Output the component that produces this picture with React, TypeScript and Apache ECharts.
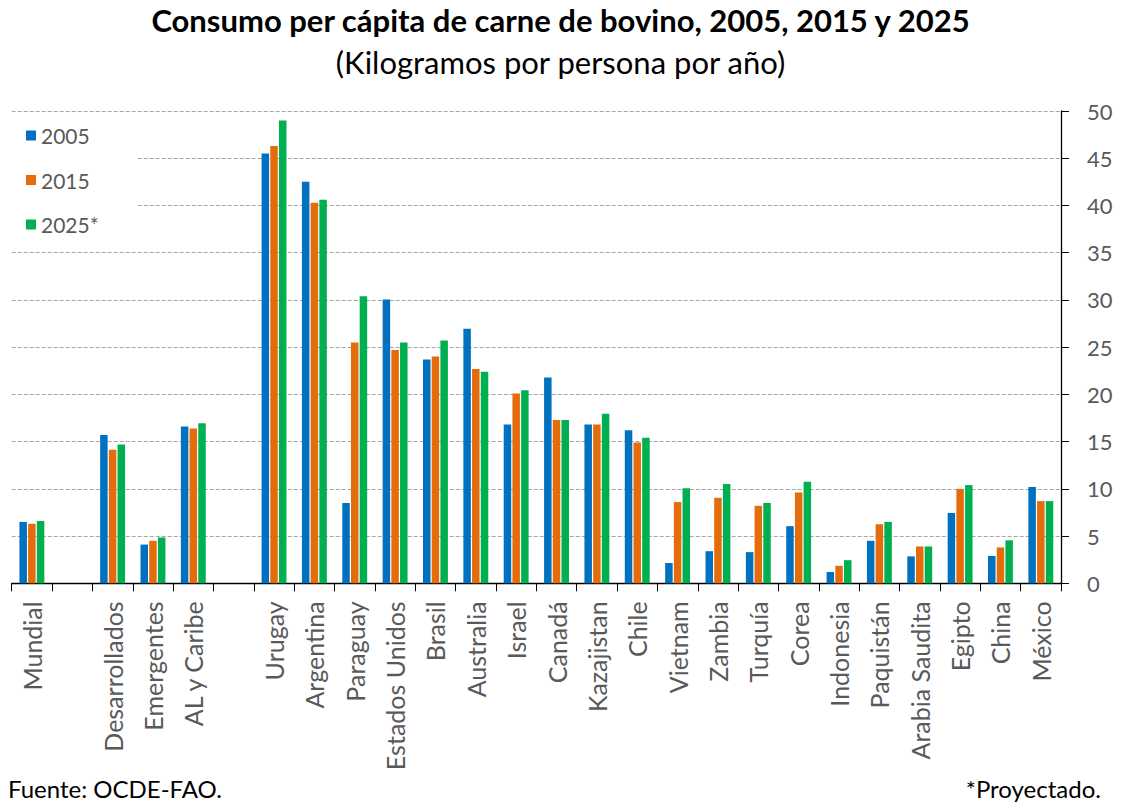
import React, { useEffect, useRef } from "react";
import * as echarts from "echarts";

const categories = [
  "Mundial", "", "Desarrollados", "Emergentes", "AL y Caribe", "",
  "Urugay", "Argentina", "Paraguay", "Estados Unidos", "Brasil", "Australia",
  "Israel", "Canadá", "Kazajistan", "Chile", "Vietnam", "Zambia", "Turquía",
  "Corea", "Indonesia", "Paquistán", "Arabia Saudita", "Egipto", "China", "México",
];

const v2005 = [6.5, null, 15.7, 4.1, 16.6, null, 45.5, 42.5, 8.5, 30.05, 23.7, 26.95, 16.8, 21.8, 16.8, 16.2, 2.15, 3.4, 3.3, 6.05, 1.2, 4.5, 2.85, 7.45, 2.9, 10.2];
const v2015 = [6.3, null, 14.15, 4.5, 16.4, null, 46.3, 40.3, 25.5, 24.7, 24.0, 22.7, 20.1, 17.3, 16.8, 14.9, 8.6, 9.05, 8.2, 9.6, 1.85, 6.25, 3.9, 10.0, 3.8, 8.7];
const v2025 = [6.6, null, 14.7, 4.85, 16.95, null, 49.0, 40.6, 30.4, 25.5, 25.7, 22.4, 20.45, 17.3, 17.95, 15.4, 10.05, 10.5, 8.5, 10.75, 2.45, 6.5, 3.9, 10.4, 4.55, 8.7];

const seriesNames = ["2005", "2015", "2025*"];
const seriesColors = ["#0070C0", "#E46C0A", "#00B050"];

const FONT = "Lato";

export default function App() {
  const ref = useRef<HTMLDivElement>(null);
  useEffect(() => {
    if (!ref.current) return;
    const chart = echarts.init(ref.current, undefined, { renderer: "svg" });
    const data = [v2005, v2015, v2025];
    chart.setOption({
      animation: false,
      backgroundColor: "#fff",
      textStyle: { fontFamily: FONT },
      title: [
        {
          text: "Consumo per cápita de carne de bovino, 2005, 2015 y 2025",
          left: "center",
          top: 4,
          padding: 0,
          textStyle: { fontFamily: FONT, fontSize: 31, fontWeight: "bold", color: "#000" },
        },
        {
          text: "(Kilogramos por persona por año)",
          left: "center",
          top: 46,
          padding: 0,
          textStyle: { fontFamily: FONT, fontSize: 31, fontWeight: "normal", color: "#000" },
        },
      ],
      legend: {
        orient: "vertical",
        left: 10,
        top: 115,
        itemGap: 23.5,
        itemWidth: 10,
        itemHeight: 10,
        icon: "rect",
        backgroundColor: "#fff",
        padding: [10, 38, 12, 16],
        data: seriesNames,
        textStyle: { fontFamily: FONT, fontSize: 21, color: "#595959" },
      },
      grid: { left: 11.7, right: 60, top: 111, bottom: 226.7 },
      xAxis: {
        type: "category",
        data: categories,
        boundaryGap: true,
        axisLine: { show: true, lineStyle: { color: "#000", width: 1.3 } },
        axisTick: { show: true, length: 8, interval: 0, lineStyle: { color: "#000" } },
        axisLabel: {
          interval: 0,
          rotate: 90,
          margin: 18,
          fontFamily: FONT,
          fontSize: 25,
          color: "#595959",
        },
      },
      yAxis: {
        type: "value",
        position: "right",
        min: 0,
        max: 50,
        interval: 5,
        axisLine: { show: true, lineStyle: { color: "#000", width: 1.3 } },
        axisTick: { show: true, length: 8, lineStyle: { color: "#000" } },
        axisLabel: { margin: 26, fontFamily: FONT, fontSize: 22, color: "#595959", align: "left" },
        splitLine: { show: true, lineStyle: { color: "#A6A6A6", type: [4, 2], width: 1 } },
      },
      series: seriesNames.map((name, i) => ({
        name,
        type: "bar",
        data: data[i],
        barWidth: 7.5,
        barGap: "16%",
        itemStyle: { color: seriesColors[i] },
      })),
      graphic: [
        {
          type: "text",
          left: 8,
          top: 776,
          style: { text: "Fuente: OCDE-FAO.", font: `24px ${FONT}`, fill: "#000" },
        },
        {
          type: "text",
          right: 20,
          top: 776,
          style: { text: "*Proyectado.", font: `24px ${FONT}`, fill: "#000" },
        },
      ],
    });
    return () => chart.dispose();
  }, []);
  return <div ref={ref} style={{ width: 1121, height: 810, margin: -8 }} />;
}
